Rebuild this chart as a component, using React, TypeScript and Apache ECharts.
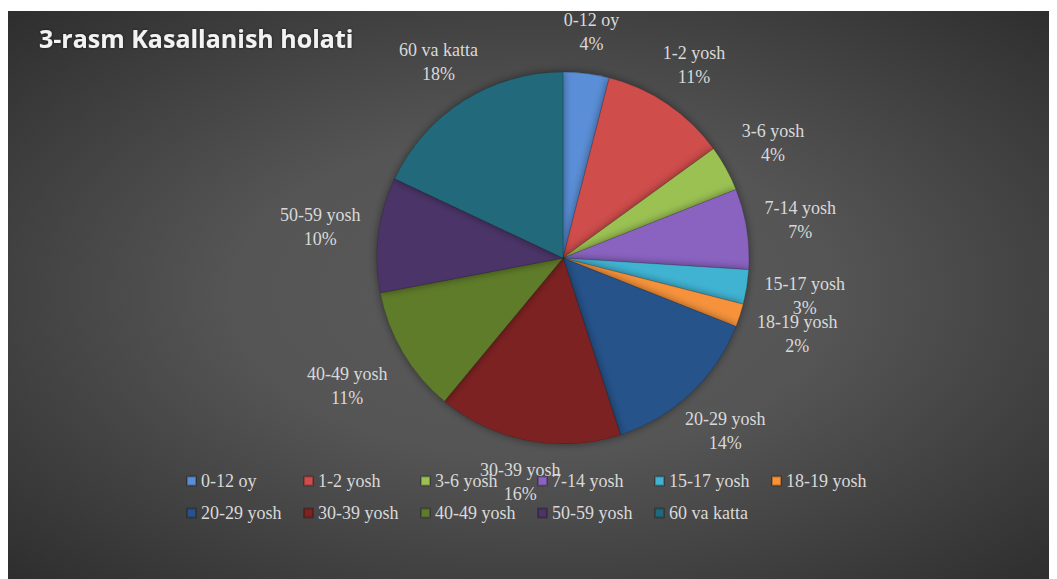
import React, { useEffect, useRef } from "react";
import * as echarts from "echarts";

const categories = [
  "0-12 oy",
  "1-2 yosh",
  "3-6 yosh",
  "7-14 yosh",
  "15-17 yosh",
  "18-19 yosh",
  "20-29 yosh",
  "30-39 yosh",
  "40-49 yosh",
  "50-59 yosh",
  "60 va katta",
];
const values = [4, 11, 4, 7, 3, 2, 14, 16, 11, 10, 18];
const colors = [
  "#5a8ed6",
  "#cf4e4c",
  "#9bc152",
  "#8a63c1",
  "#41b3d3",
  "#f6923a",
  "#27538a",
  "#7d2423",
  "#5e7b2c",
  "#4c3467",
  "#21697c",
];
const titleText = "3-rasm Kasallanish holati";

export default function App() {
  const ref = useRef<HTMLDivElement>(null);
  useEffect(() => {
    if (!ref.current) return;
    const chart = echarts.init(ref.current, null, { renderer: "svg" });
    const gap = 18;
    chart.setOption({
      animation: false,
      title: {
        text: titleText,
        left: 26,
        top: 9,
        textStyle: {
          fontFamily: "Open Sans",
          fontWeight: "bold",
          fontSize: 25,
          color: "#f2f2f2",
          textShadowColor: "rgba(0,0,0,0.6)",
          textShadowBlur: 3,
        },
      },
      legend: {
        left: 178,
        top: 454,
        width: 720,
        itemGap: 0,
        itemWidth: 9,
        itemHeight: 9,
        icon: "rect",
        padding: 0,
        data: categories,
        textStyle: {
          fontFamily: "Liberation Serif",
          fontSize: 18,
          color: "#d9d9d9",
          width: 102,
          lineHeight: 32,
          overflow: "none",
        },
      },
      series: [
        {
          type: "pie",
          center: [555, 247],
          radius: 186,
          startAngle: 90,
          clockwise: true,
          avoidLabelOverlap: false,
          percentPrecision: 0,
          data: categories.map((c, i) => ({
            name: c,
            value: values[i],
            itemStyle: { color: colors[i] },
          })),
          itemStyle: {
            borderColor: "rgba(0,0,0,0.25)",
            borderWidth: 0.6,
            shadowBlur: 8,
            shadowColor: "rgba(0,0,0,0.45)",
          },
          label: {
            show: true,
            position: "outside",
            formatter: "{b}\n{d}%",
            fontFamily: "Liberation Serif",
            fontSize: 18,
            lineHeight: 24,
            color: "#d9d9d9",
          },
          labelLine: {
            show: true,
            length: 10,
            length2: 0,
            lineStyle: { opacity: 0, width: 0 },
          },
          labelLayout: (params: any) => {
            const pts = params.labelLinePoints;
            if (!pts || pts.length < 2) return {};
            const p0 = pts[0];
            const p1 = pts[1];
            const dx = p1[0] - p0[0];
            const dy = p1[1] - p0[1];
            const len = Math.hypot(dx, dy) || 1;
            const ux = dx / len;
            const uy = dy / len;
            const w = params.labelRect.width;
            const h = params.labelRect.height;
            const tx = Math.abs(ux) > 1e-6 ? w / 2 / Math.abs(ux) : Infinity;
            const ty = Math.abs(uy) > 1e-6 ? h / 2 / Math.abs(uy) : Infinity;
            const t = Math.min(tx, ty);
            return {
              x: p0[0] + ux * (gap + t),
              y: p0[1] + uy * (gap + t),
              align: "center",
              verticalAlign: "middle",
            };
          },
          emphasis: { disabled: true },
        },
      ],
    });
    return () => chart.dispose();
  }, []);
  return (
    <div
      ref={ref}
      style={{
        width: 1050,
        height: 568,
        marginTop: 3,
        background:
          "radial-gradient(ellipse at 50% 50%, #5a5a5a 0%, #555555 40%, #2e2e2e 100%)",
      }}
    />
  );
}
